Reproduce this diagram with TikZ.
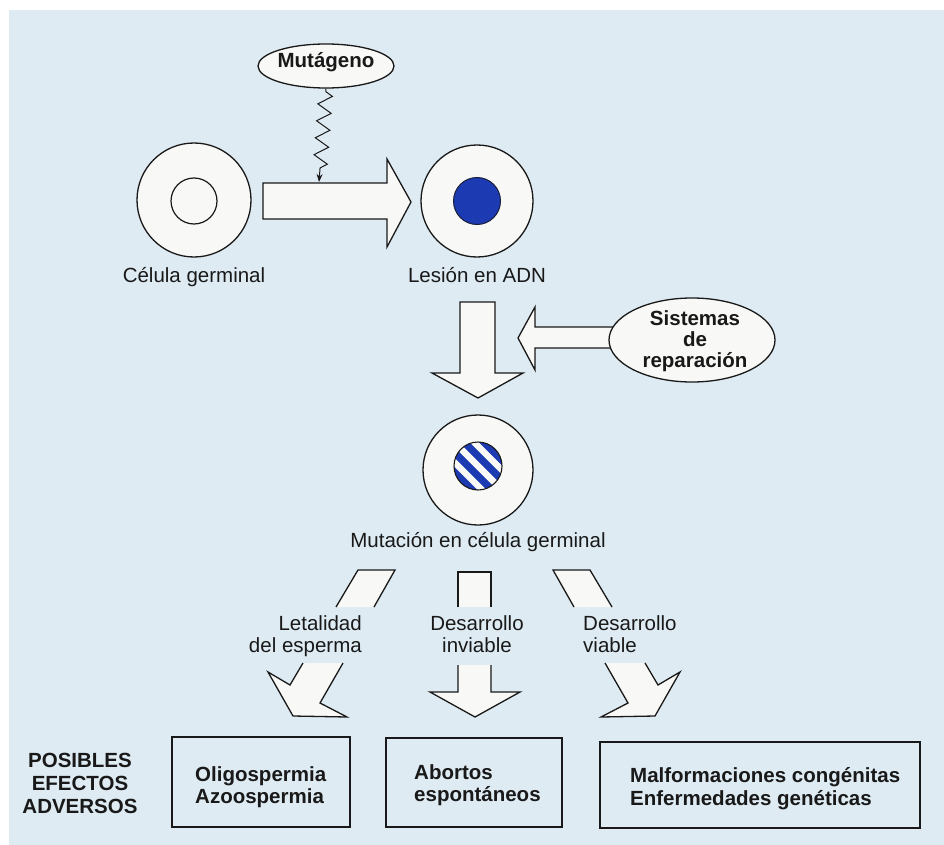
\documentclass[tikz,border=0pt]{standalone}
\usepackage{fontspec}
\setmainfont{Liberation Sans}
\usetikzlibrary{decorations.pathmorphing,arrows.meta,shapes.geometric}
\definecolor{bg}{RGB}{222,235,243}
\definecolor{pale}{RGB}{248,248,246}
\definecolor{nucblue}{RGB}{28,58,178}
\definecolor{ink}{RGB}{25,25,25}
\tikzset{
  txt/.style={font=\fontsize{20.5}{23}\selectfont, text=ink, inner sep=0pt},
  btxt/.style={txt, font=\fontsize{20.5}{23}\selectfont\bfseries},
  cellshape/.style={circle, draw=ink, fill=pale, line width=1.3pt, inner sep=0pt},
  blockarrow/.style={draw=ink, fill=pale, line width=1.3pt, line join=miter},
  outline/.style={draw=ink, line width=1.3pt, line join=miter},
  effectbox/.style={rectangle, draw=ink, line width=1.8pt, inner sep=0pt},
  bubble/.style={ellipse, draw=ink, fill=pale, line width=1.3pt, inner sep=0pt}
}
\begin{document}
\begin{tikzpicture}[x=1pt,y=-1pt]
\useasboundingbox (0,0) rectangle (944,845);
\fill[white] (0,0) rectangle (944,845);
\fill[bg] (9,10) rectangle (944,845);

% ---- top: germ cell -> DNA lesion
\node[cellshape, minimum size=114pt] (cell1) at (194,200) {};
\node[circle, draw=ink, line width=1.2pt, minimum size=46pt, inner sep=0pt] (nuc1) at (194,201) {};
\node[cellshape, minimum size=112pt] (cell2) at (477,201) {};
\node[circle, draw=ink!80!nucblue, fill=nucblue, line width=1pt, minimum size=47pt, inner sep=0pt] (nuc2) at (477,201) {};

\path[blockarrow] (263,183) -- (387,183) -- (387,159) -- (411,202) -- (387,247) -- (387,219) -- (263,219) -- cycle;

\node[bubble, minimum width=136pt, minimum height=44pt] (mut) at (326,66) {};
\node[btxt, anchor=base] (mutlbl) at (326,68) {Mutágeno};
\coordinate (hit) at (319,182);
\draw[ink, line width=1pt, line join=miter, decorate,
      decoration={zigzag, segment length=17pt, amplitude=7pt, pre length=3pt, post length=14pt},
      -{Stealth[length=8pt,width=6pt]}] (mut.south) -- (hit);

\node[txt, anchor=base] (lbl1) at (194,282) {Célula germinal};
\node[txt, anchor=base] (lbl2) at (477,282) {Lesión en ADN};

% ---- repair systems and down arrow
\path[blockarrow] (460,302) -- (495,302) -- (495,373) -- (523,373) -- (478,398) -- (432,373) -- (460,373) -- cycle;
\path[blockarrow] (615,327) -- (535,327) -- (535,307) -- (518,338) -- (535,370) -- (535,348) -- (615,348) -- cycle;
\node[bubble, minimum width=166pt, minimum height=84pt] (rep) at (692,340) {};
\node[btxt, anchor=base] (rep1) at (695,325) {Sistemas};
\node[btxt, anchor=base] (rep2) at (695,346) {de};
\node[btxt, anchor=base] (rep3) at (695,367) {reparación};

% ---- mutated germ cell
\node[cellshape, minimum size=110pt] (cell3) at (478,470) {};
\begin{scope}
  \clip (478,466) circle (24pt);
  \fill[nucblue] (478,466) circle (24pt);
  \foreach \o in {-14,0,14} {
    \fill[pale, shift={(478,466)}, rotate=-45] (-30,\o-3.2) rectangle (30,\o+3.2);
  }
\end{scope}
\node[circle, draw=ink, line width=1.1pt, minimum size=48pt, inner sep=0pt] (nuc3) at (478,466) {};
\node[txt, anchor=base] (lbl3) at (478,547) {Mutación en célula germinal};

% ---- three outcome arrows
% left
\fill[pale] (336,607) -- (358,570) -- (395,570) -- (374,607) -- cycle;
\path[outline] (336,607) -- (358,570) -- (395,570) -- (374,607);
\fill[pale] (303,663) -- (290,685) -- (268,672) -- (293,716) -- (347,717) -- (320,703) -- (343,663) -- cycle;
\path[outline] (303,663) -- (290,685) -- (268,672) -- (293,716) -- (347,717) -- (320,703) -- (343,663);
\node[txt, anchor=base east] (a1a) at (362,630) {Letalidad};
\node[txt, anchor=base east] (a1b) at (362,652) {del esperma};
% middle
\fill[pale] (458,607) -- (458,572) -- (491,572) -- (491,607) -- cycle;
\path[outline] (458,607) -- (458,572) -- (491,572) -- (491,607);
\fill[pale] (458,665) -- (458,692) -- (430,692) -- (475,717) -- (520,692) -- (491,692) -- (491,665) -- cycle;
\path[outline] (458,665) -- (458,692) -- (430,692) -- (475,717) -- (520,692) -- (491,692) -- (491,665);
\node[txt, anchor=base] (a2a) at (477,630) {Desarrollo};
\node[txt, anchor=base] (a2b) at (477,652) {inviable};
% right
\fill[pale] (574,607) -- (553,570) -- (590,570) -- (612,607) -- cycle;
\path[outline] (574,607) -- (553,570) -- (590,570) -- (612,607);
\fill[pale] (605,663) -- (628,703) -- (601,717) -- (655,716) -- (680,672) -- (658,685) -- (645,663) -- cycle;
\path[outline] (605,663) -- (628,703) -- (601,717) -- (655,716) -- (680,672) -- (658,685) -- (645,663);
\node[txt, anchor=base west] (a3a) at (583,630) {Desarrollo};
\node[txt, anchor=base west] (a3b) at (583,652) {viable};

% ---- possible adverse effects
\node[btxt, anchor=base] (pe1) at (80,767) {POSIBLES};
\node[btxt, anchor=base] (pe2) at (80,790) {EFECTOS};
\node[btxt, anchor=base] (pe3) at (80,813) {ADVERSOS};

\node[effectbox, minimum width=178pt, minimum height=90pt] (box1) at (261,782) {};
\node[btxt, anchor=base west] (b1a) at (195,781) {Oligospermia};
\node[btxt, anchor=base west] (b1b) at (195,803) {Azoospermia};

\node[effectbox, minimum width=176pt, minimum height=89pt] (box2) at (474,782.5) {};
\node[btxt, anchor=base west] (b2a) at (414,779) {Abortos};
\node[btxt, anchor=base west] (b2b) at (414,801) {espontáneos};

\node[effectbox, minimum width=320pt, minimum height=86pt] (box3) at (760,785) {};
\node[btxt, anchor=base west] (b3a) at (630,782) {Malformaciones congénitas};
\node[btxt, anchor=base west] (b3b) at (630,805) {Enfermedades genéticas};
\end{tikzpicture}
\end{document}
